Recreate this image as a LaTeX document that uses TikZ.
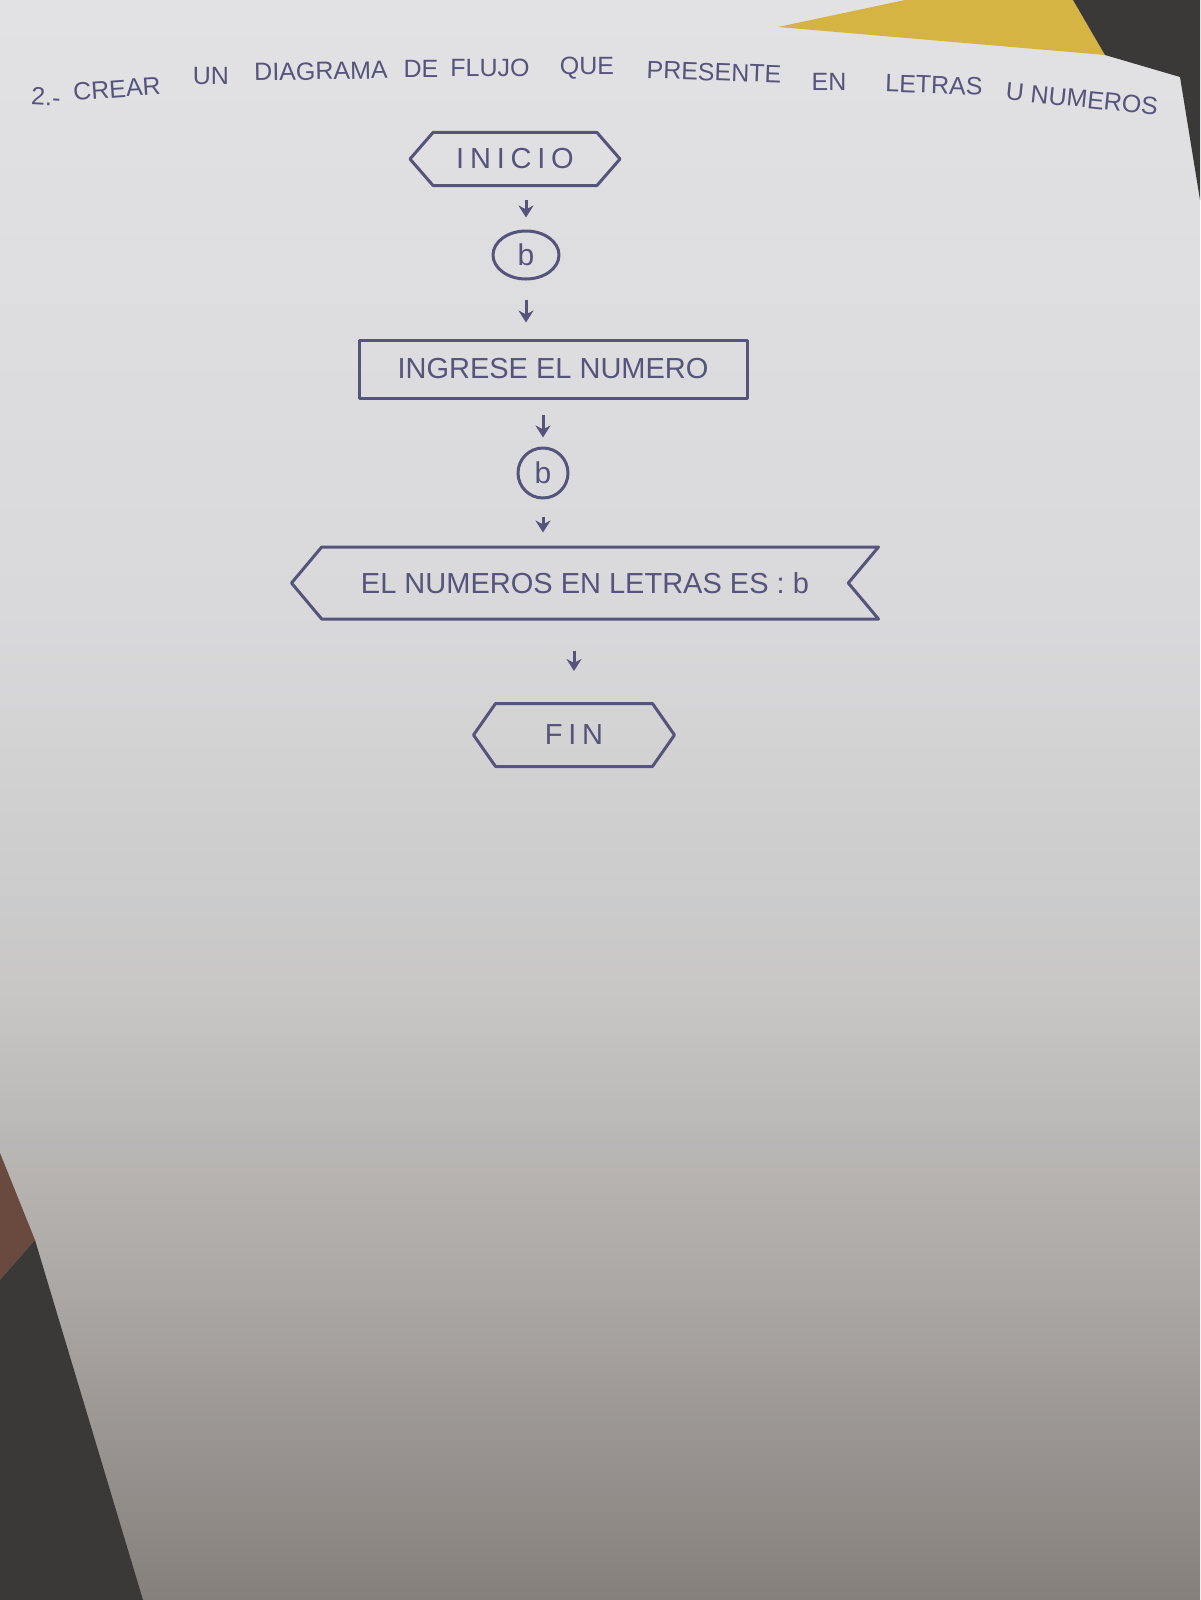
\documentclass[tikz,border=0pt]{standalone}
\usepackage{fontspec}
\setmainfont{Liberation Sans}
\usetikzlibrary{shapes.geometric,shapes.symbols,arrows.meta,calc}
\definecolor{ink}{HTML}{55547C}
\definecolor{pA}{HTML}{E2E2E4}
\definecolor{pB}{HTML}{D9D9DB}
\definecolor{pC}{HTML}{C8C7C6}
\definecolor{pD}{HTML}{A9A5A2}
\definecolor{pE}{HTML}{86807C}
\definecolor{darkbg}{HTML}{3B3838}
\definecolor{skin}{HTML}{6A4A3E}
\definecolor{yel}{HTML}{D6B443}
\pgfdeclareverticalshading{paper}{100bp}{color(0bp)=(pE); color(25bp)=(pE); color(34bp)=(pD); color(44bp)=(pC); color(56bp)=(pB); color(75bp)=(pA); color(100bp)=(pA)}
\tikzset{
  ink/.style={draw=ink, line width=3pt, text=ink, line join=round},
  hexa/.style={ink, shape=signal, signal to=west and east, inner sep=0pt,
    font=\fontsize{29}{31}\selectfont},
  procbox/.style={ink, rectangle, inner sep=0pt, font=\fontsize{29}{31}\selectfont},
  conn/.style={ink, ellipse, inner sep=0pt, font=\fontsize{30}{32}\selectfont},
  outbox/.style={ink, shape=signal, signal to=west, signal from=east, inner sep=0pt,
    font=\fontsize{29}{31}\selectfont},
  arr/.style={draw=ink, line width=3pt, -{Stealth[length=12pt,width=15pt]}},
  ttl/.style={text=ink, inner sep=0pt, font=\fontsize{25}{27}\selectfont}
}
\begin{document}
\begin{tikzpicture}[x=1pt,y=-1pt]
\useasboundingbox (0,0) rectangle (1200,1600);
% paper and surroundings
\shade[shading=paper] (0,0) rectangle (1200,1600);
\fill[yel] (778,27) -- (905,0) -- (1073,0) -- (1105,55) -- cycle;
\fill[darkbg] (1073,0) -- (1200,0) -- (1200,200) -- (1180,77) -- (1105,55) -- cycle;
\fill[skin] (0,1153) -- (35,1240) -- (0,1280) -- cycle;
\fill[darkbg] (0,1280) -- (35,1240) -- (143,1600) -- (0,1600) -- cycle;

% title words
\node[ttl, rotate=-3] (t1) at (46,97) {2.-};
\node[ttl, rotate=4] (t2) at (117,89) {CREAR};
\node[ttl] (t3) at (211,76) {UN};
\node[ttl, rotate=1] (t4) at (321,71) {DIAGRAMA};
\node[ttl] (t5) at (421,69) {DE};
\node[ttl] (t6) at (490,68) {FLUJO};
\node[ttl] (t7) at (587,68) {QUE};
\node[ttl, rotate=-2] (t8) at (714,72) {PRESENTE};
\node[ttl] (t9) at (829,82) {EN};
\node[ttl, rotate=-2] (t10) at (934,85) {LETRAS};
\node[ttl, rotate=-6] (t11) at (1082,99) {U NUMEROS};

% flowchart
\node[hexa, minimum width=210, minimum height=53, signal pointer angle=98] (inicio) at (515,159)
  {\addfontfeature{LetterSpace=20}INICIO};
\node[conn, minimum width=66, minimum height=48] (b1) at (526,255) {b};
\node[procbox, minimum width=388, minimum height=58] (ingrese) at (553,369) {INGRESE EL NUMERO};
\node[conn, minimum width=50, minimum height=50] (b2) at (543,473) {b};
\node[outbox, minimum width=587, minimum height=72, signal pointer angle=100] (salida) at (585,583)
  {EL NUMEROS EN LETRAS ES : b};
\node[hexa, minimum width=201, minimum height=63, signal pointer angle=110] (fin) at (574,735)
  {\addfontfeature{LetterSpace=20}FIN};

% connectors (short vertical arrows between shapes)
\draw[arr, shorten <=13pt, shorten >=12pt] (inicio.south -| b1.north) -- (b1.north);
\draw[arr, shorten <=19pt, shorten >=16pt] (b1.south) -- (b1.south |- ingrese.north);
\draw[arr, shorten <=15pt, shorten >=9pt] (ingrese.south -| b2.north) -- (b2.north);
\draw[arr, shorten <=17pt, shorten >=13pt] (b2.south) -- (b2.south |- salida.north);
\draw[arr, shorten <=30pt, shorten >=31pt] (salida.south -| fin.north) -- (fin.north);
\end{tikzpicture}
\end{document}
